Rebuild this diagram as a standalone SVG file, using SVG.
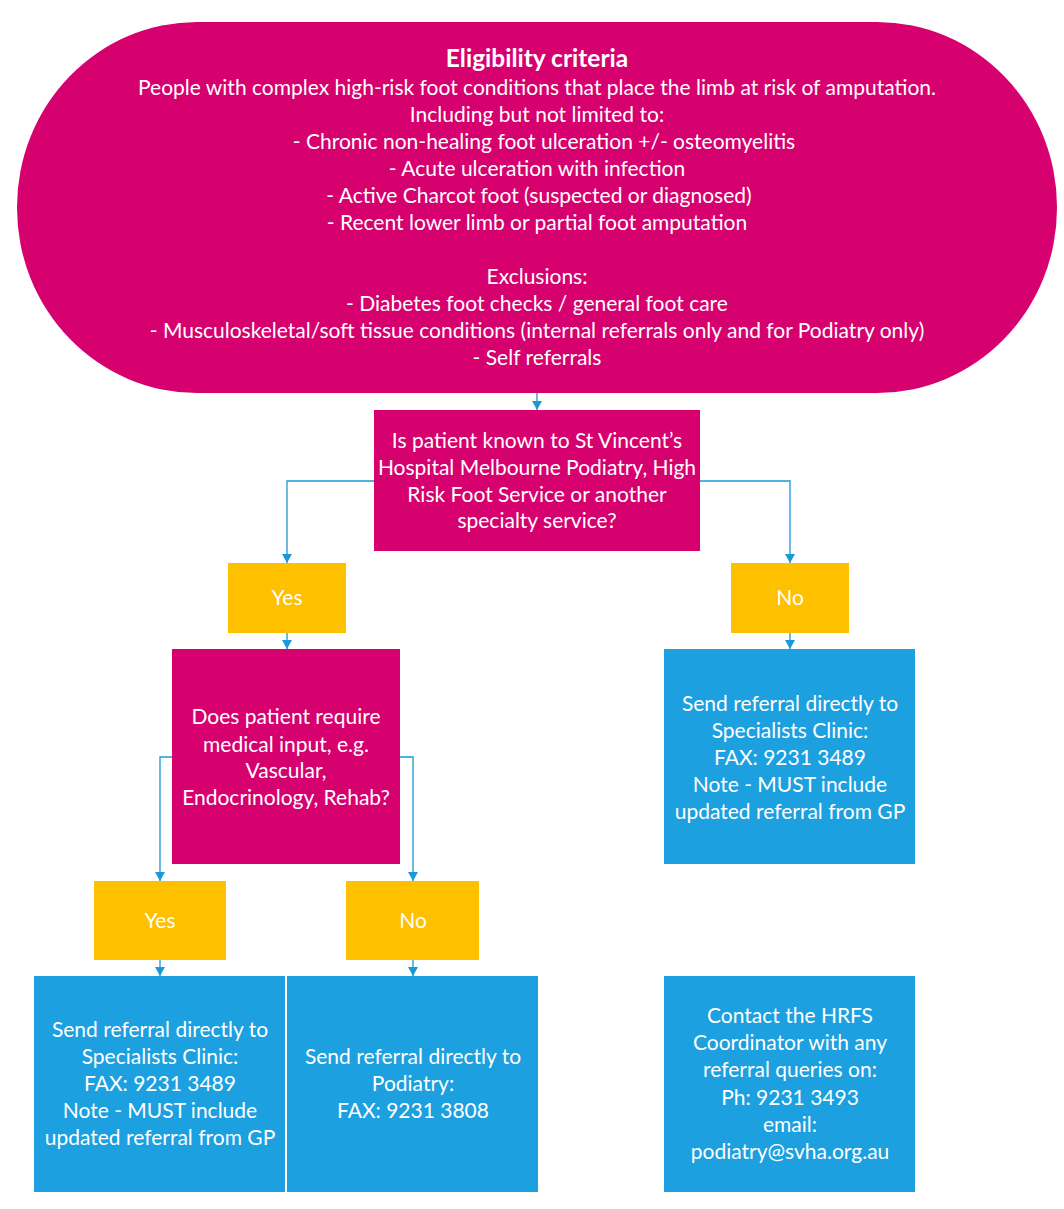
<svg xmlns="http://www.w3.org/2000/svg" width="1064" height="1209" viewBox="0 0 1064 1209">
<style>
.mag{fill:#D6006F}
.yel{fill:#FFC000}
.blu{fill:#1CA0DF}
text{font-family:Lato,"Liberation Sans",sans-serif;font-size:21px;fill:#FFFFFF;text-anchor:middle}
.b{font-weight:bold;font-size:24.5px}
.conn{fill:none;stroke:#1B98D8;stroke-width:1.3}
</style>
<defs>
<marker id="arr" markerWidth="11" markerHeight="10" refX="9" refY="5" orient="auto" markerUnits="userSpaceOnUse" viewBox="0 0 11 10">
<path d="M0,0 L9,5 L0,10 Z" fill="#1B98D8"/>
</marker>
</defs>
<g id="connectors">
<path class="conn" d="M537,393 V410" marker-end="url(#arr)"/>
<path class="conn" d="M374,481 H287 V563" marker-end="url(#arr)"/>
<path class="conn" d="M700,481 H790 V563" marker-end="url(#arr)"/>
<path class="conn" d="M287,633 V649" marker-end="url(#arr)"/>
<path class="conn" d="M790,633 V649" marker-end="url(#arr)"/>
<path class="conn" d="M172,757 H160 V881" marker-end="url(#arr)"/>
<path class="conn" d="M400,757 H413 V881" marker-end="url(#arr)"/>
<path class="conn" d="M160,960 V976" marker-end="url(#arr)"/>
<path class="conn" d="M413,960 V976" marker-end="url(#arr)"/>
</g>
<g id="eligibility">
<rect class="mag" x="17" y="22" width="1040" height="371" rx="180" ry="185"/>
<text class="b" x="537" y="67">Eligibility criteria</text>
<text x="537" y="95">People with complex high-risk foot conditions that place the limb at risk of amputation.</text>
<text x="537" y="122">Including but not limited to:</text>
<text x="544" y="149">- Chronic non-healing foot ulceration +/- osteomyelitis</text>
<text x="537" y="176">- Acute ulceration with infection</text>
<text x="539" y="203">- Active Charcot foot (suspected or diagnosed)</text>
<text x="537" y="230">- Recent lower limb or partial foot amputation</text>
<text x="537" y="284">Exclusions:</text>
<text x="537" y="311">- Diabetes foot checks / general foot care</text>
<text x="537" y="338">- Musculoskeletal/soft tissue conditions (internal referrals only and for Podiatry only)</text>
<text x="537" y="365">- Self referrals</text>
</g>
<g id="q1">
<rect class="mag" x="374" y="410" width="326" height="141"/>
<text x="537" y="448">Is patient known to St Vincent’s</text>
<text x="537" y="475">Hospital Melbourne Podiatry, High</text>
<text x="537" y="502">Risk Foot Service or another</text>
<text x="537" y="528">specialty service?</text>
</g>
<g id="yes1">
<rect class="yel" x="228" y="563" width="118" height="70"/>
<text x="287" y="605">Yes</text>
</g>
<g id="no1">
<rect class="yel" x="731" y="563" width="118" height="70"/>
<text x="790" y="605">No</text>
</g>
<g id="q2">
<rect class="mag" x="172" y="649" width="228" height="215"/>
<text x="286" y="724">Does patient require</text>
<text x="286" y="752">medical input, e.g.</text>
<text x="286" y="778">Vascular,</text>
<text x="286" y="805">Endocrinology, Rehab?</text>
</g>
<g id="sendSpec1">
<rect class="blu" x="664" y="649" width="251" height="215"/>
<text x="790" y="711">Send referral directly to</text>
<text x="790" y="738">Specialists Clinic:</text>
<text x="790" y="765">FAX: 9231 3489</text>
<text x="790" y="792">Note - MUST include</text>
<text x="790" y="819">updated referral from GP</text>
</g>
<g id="yes2">
<rect class="yel" x="94" y="881" width="132" height="79"/>
<text x="160" y="928">Yes</text>
</g>
<g id="no2">
<rect class="yel" x="346" y="881" width="133" height="79"/>
<text x="413" y="928">No</text>
</g>
<g id="sendSpec2">
<rect class="blu" x="34" y="976" width="251" height="216"/>
<text x="160" y="1037">Send referral directly to</text>
<text x="160" y="1064">Specialists Clinic:</text>
<text x="160" y="1091">FAX: 9231 3489</text>
<text x="160" y="1118">Note - MUST include</text>
<text x="160" y="1145">updated referral from GP</text>
</g>
<g id="sendPod">
<rect class="blu" x="287" y="976" width="251" height="216"/>
<text x="413" y="1064">Send referral directly to</text>
<text x="413" y="1091">Podiatry:</text>
<text x="413" y="1118">FAX: 9231 3808</text>
</g>
<g id="contact">
<rect class="blu" x="664" y="976" width="251" height="216"/>
<text x="790" y="1023">Contact the HRFS</text>
<text x="790" y="1050">Coordinator with any</text>
<text x="790" y="1077">referral queries on:</text>
<text x="790" y="1105">Ph: 9231 3493</text>
<text x="790" y="1132">email:</text>
<text x="790" y="1159">podiatry@svha.org.au</text>
</g>
</svg>
